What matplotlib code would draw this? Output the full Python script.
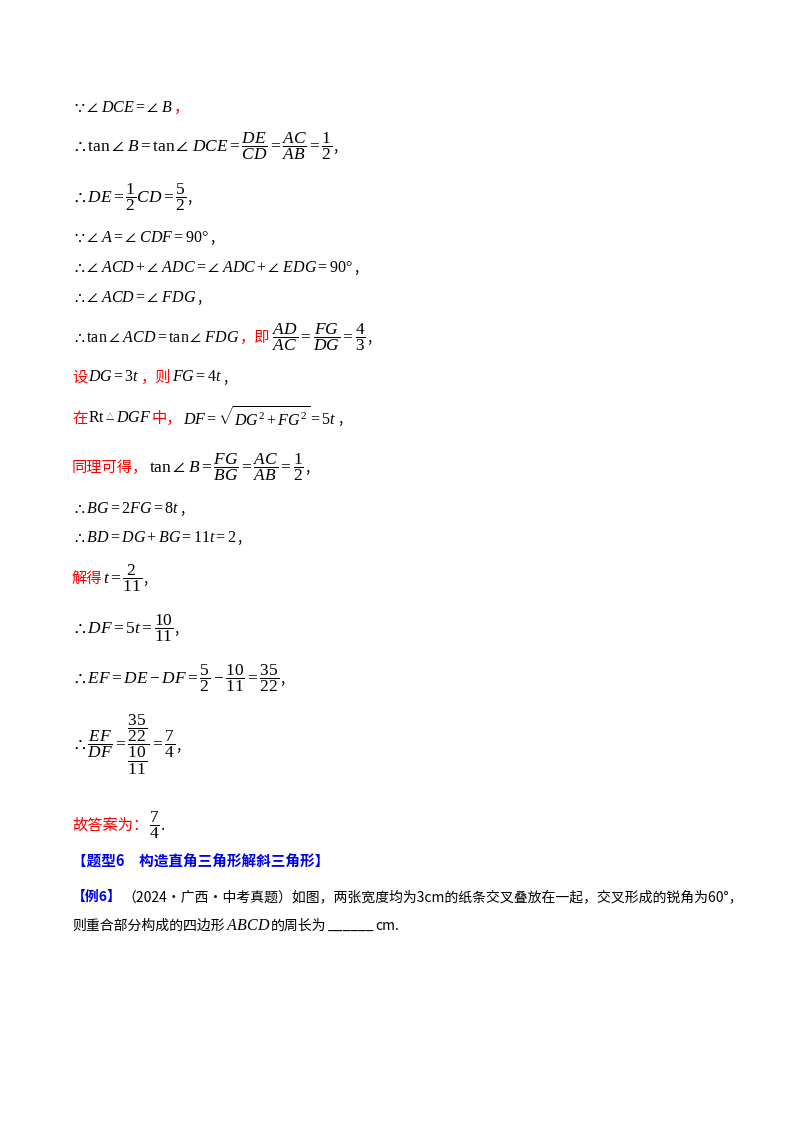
import matplotlib
matplotlib.use("Agg")
import matplotlib.pyplot as plt

plt.rcParams['font.family'] = ['Noto Sans CJK SC', 'DejaVu Sans']
plt.rcParams['mathtext.fontset'] = 'custom'
plt.rcParams['mathtext.it'] = 'Liberation Serif:italic'
plt.rcParams['mathtext.rm'] = 'Liberation Serif'
plt.rcParams['mathtext.bf'] = 'Liberation Serif:bold'

K = 'black'
R = '#ff0000'
B = '#0000ee'
M = 11.5   # plain math
F = 12.5   # math with fractions
C = 11     # chinese text

# each line: (pixel y of line centre, list of (text, colour, bold, size))
lines = [
    (107, [(r"$\because\angle\ DCE=\angle\ B$", K, False, M), ("，", R, False, C)]),
    (146, [(r"$\therefore\tan\angle\ B=\tan\angle\ DCE=\dfrac{DE}{CD}=\dfrac{AC}{AB}=\dfrac{1}{2}$", K, False, F), (",", K, False, C)]),
    (197, [(r"$\therefore DE=\dfrac{1}{2}CD=\dfrac{5}{2}$", K, False, F), (",", K, False, C)]),
    (237, [(r"$\because\angle\ A=\angle\ CDF=90\degree$", K, False, M), (",", K, False, C)]),
    (267, [(r"$\therefore\angle\ ACD+\angle\ ADC=\angle\ ADC+\angle\ EDG=90\degree$", K, False, M), (",", K, False, C)]),
    (297, [(r"$\therefore\angle\ ACD=\angle\ FDG$", K, False, M), (",", K, False, C)]),
    (337, [(r"$\therefore\tan\angle\ ACD=\tan\angle\ FDG$", K, False, M), ("，即", R, False, C),
           (r"$\dfrac{AD}{AC}=\dfrac{FG}{DG}=\dfrac{4}{3}$", K, False, F), (",", K, False, C)]),
    (377, [("设", R, False, C), (r"$DG=3t$", K, False, M), ("，则", R, False, C), (r"$FG=4t$", K, False, M), (",", K, False, C)]),
    (418, [("在", R, False, C), (r"$\mathrm{Rt}$", K, False, M), ("△", K, False, 6), (r"$DGF$", K, False, M), ("中，", R, False, C),
           (r"$DF=\sqrt{DG^2+FG^2}=5t$", K, False, M), (",", K, False, C)]),
    (467, [("同理可得，", R, False, C), (r"$\tan\angle\ B=\dfrac{FG}{BG}=\dfrac{AC}{AB}=\dfrac{1}{2}$", K, False, F), (",", K, False, C)]),
    (508, [(r"$\therefore BG=2FG=8t$", K, False, M), (",", K, False, C)]),
    (537, [(r"$\therefore BD=DG+BG=11t=2$", K, False, M), (",", K, False, C)]),
    (578, [("解得", R, False, C), (r"$t=\dfrac{2}{11}$", K, False, F), (",", K, False, C)]),
    (628, [(r"$\therefore DF=5t=\dfrac{10}{11}$", K, False, F), (",", K, False, C)]),
    (678, [(r"$\therefore EF=DE-DF=\dfrac{5}{2}-\dfrac{10}{11}=\dfrac{35}{22}$", K, False, F), (",", K, False, C)]),
    (745, [(r"$\therefore\dfrac{EF}{DF}=\dfrac{\dfrac{35}{22}}{\dfrac{10}{11}}=\dfrac{7}{4}$", K, False, F), (",", K, False, C)]),
    (825, [("故答案为：", R, False, C), (r"$\dfrac{7}{4}$", K, False, F), (".", K, False, C)]),
    (862, [("【题型6　构造直角三角形解斜三角形】", B, True, 10.5)]),
    (897, [("【例6】", B, True, 10), ("（2024·广西·中考真题）如图，两张宽度均为3cm的纸条交叉叠放在一起，交叉形成的锐角为60°，", K, False, 10)]),
    (926, [("则重合部分构成的四边形", K, False, 10), (r"$ABCD$", K, False, M), ("的周长为", K, False, 10),
           ("______", K, False, 10), ("cm.", K, False, 10)]),
]

W, H = 800, 1132
fig = plt.figure(figsize=(W / 100, H / 100), dpi=100)
fig.patch.set_facecolor('white')
renderer = fig.canvas.get_renderer()

left = 72
for y, segs in lines:
    x = left
    for txt, col, bold, size in segs:
        t = fig.text(x / W, 1 - y / H, txt, color=col, fontsize=size,
                     fontweight='bold' if bold else 'normal', va='center', ha='left')
        bb = t.get_window_extent(renderer=renderer)
        x += bb.width + 1

fig.savefig("out.png", dpi=100, facecolor='white')
